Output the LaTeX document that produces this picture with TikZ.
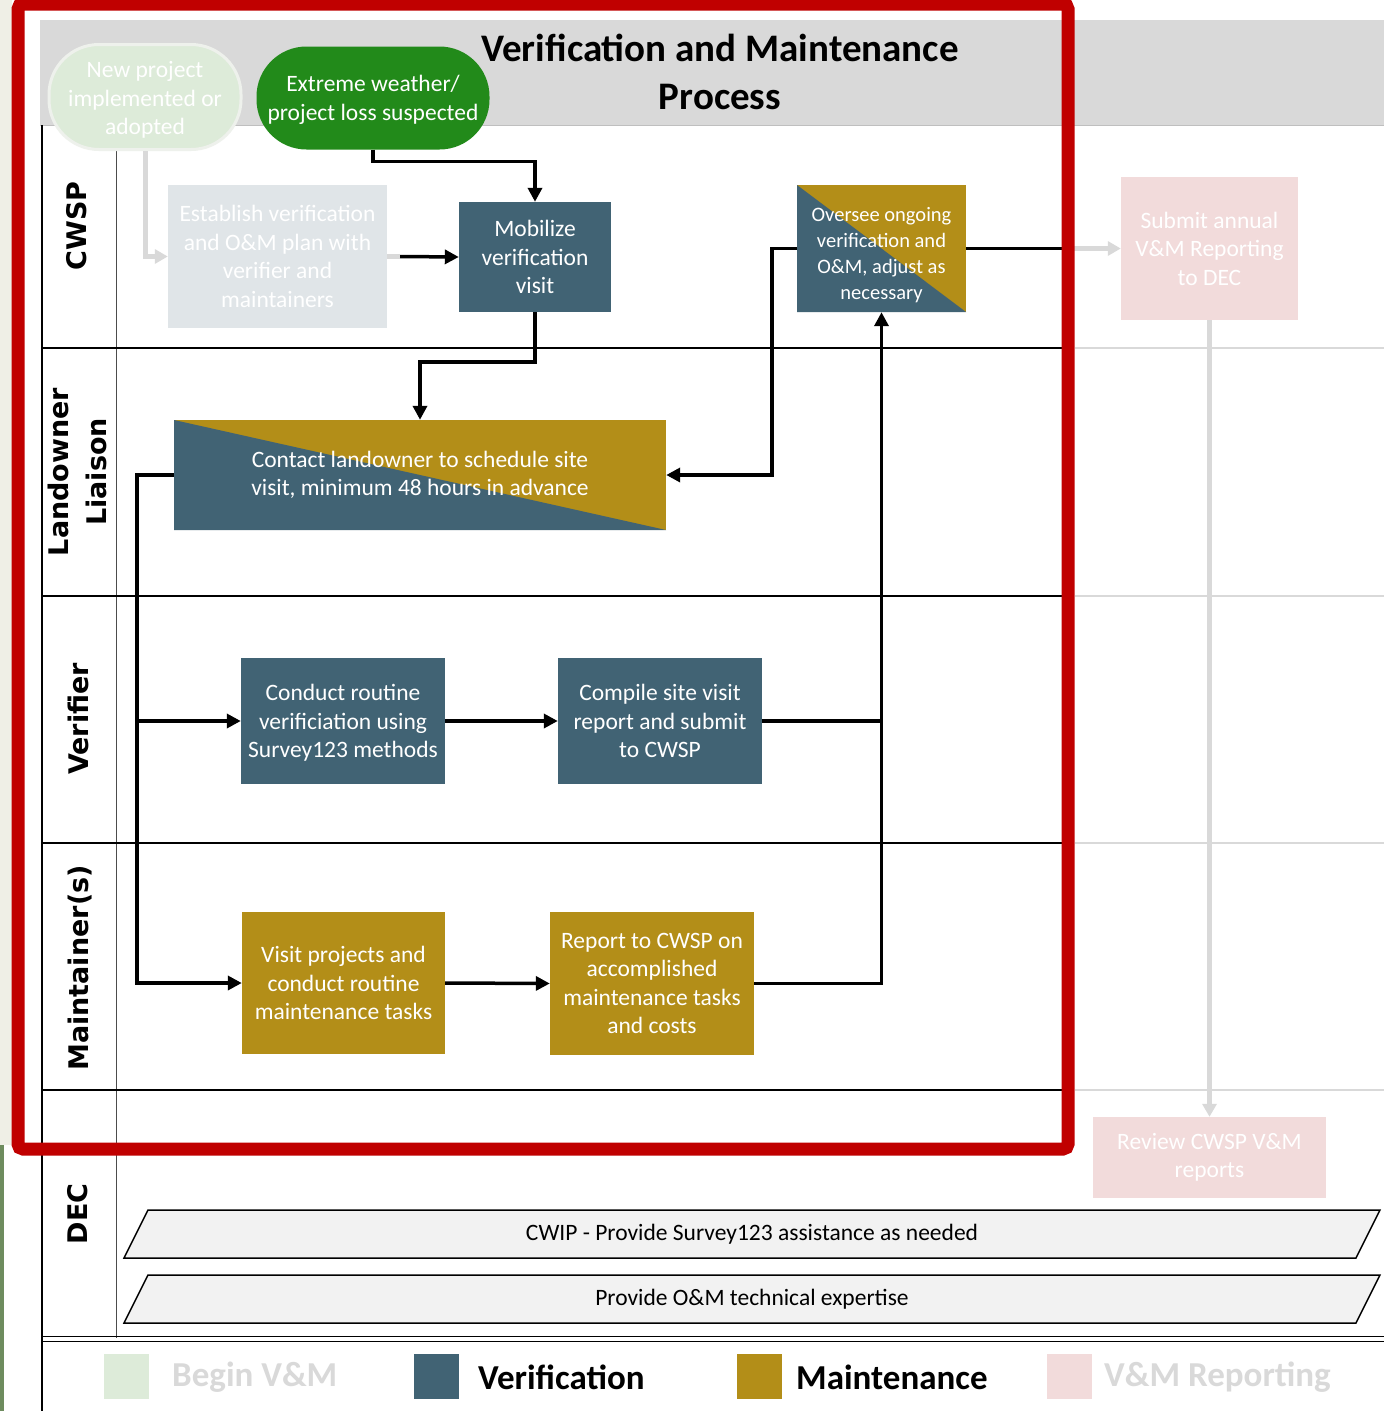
\documentclass[tikz,border=0pt]{standalone}
\usepackage{fontspec}
\setmainfont{Carlito}
\newfontfamily\lanefont{DejaVu Sans}
\usetikzlibrary{arrows.meta}
\definecolor{vblue}{HTML}{416374}
\definecolor{mgold}{HTML}{B38E18}
\definecolor{bgreen}{HTML}{DDEBD9}
\definecolor{dgreen}{HTML}{228A1A}
\definecolor{rpink}{HTML}{F2DBDB}
\definecolor{estgray}{HTML}{E0E5E8}
\definecolor{bandgray}{HTML}{D9D9D9}
\definecolor{fadegray}{HTML}{D9D9D9}
\definecolor{frame}{HTML}{C00000}
\definecolor{paragray}{HTML}{F2F2F2}
\definecolor{cream}{HTML}{EFEFE6}
\definecolor{moss}{HTML}{6E8C5E}
\definecolor{halo}{HTML}{EEF1EC}
\tikzset{
  box/.style={rectangle, inner sep=0pt, align=center, text=white, font=\fontsize{23.5}{28.5}\selectfont},
  vbox/.style={box, fill=vblue},
  mbox/.style={box, fill=mgold},
  splitbox/.style={box, fill=mgold, path picture={\fill[vblue] (path picture bounding box.north west) -- (path picture bounding box.south west) -- (path picture bounding box.south east) -- cycle;}},
  fadebox/.style={box, fill=estgray},
  pinkbox/.style={box, fill=rpink},
  stadium/.style={box, rounded corners=50pt},
  lanelabel/.style={rotate=90, align=center, inner sep=0pt, font=\lanefont\bfseries\fontsize{27}{38}\selectfont},
  lanerule/.style={draw=black, line width=1.2pt},
  farrule/.style={draw=fadegray, line width=1.2pt},
  bline/.style={draw=black, line width=3.5pt},
  barrow/.style={bline, -{Triangle[length=14pt,width=14pt]}},
  gline/.style={draw=fadegray, line width=5pt},
  garrow/.style={gline, -{Triangle[length=13pt,width=14pt]}},
  parshape/.style={draw=black, line width=1.5pt, fill=paragray},
  partext/.style={inner sep=0pt, text=black, font=\fontsize{23.5}{28.5}\selectfont},
  legsq/.style={rectangle, inner sep=0pt, minimum width=45pt, minimum height=45pt},
  legtext/.style={anchor=west, inner sep=0pt, font=\bfseries\fontsize{35}{40}\selectfont},
}
\begin{document}
\begin{tikzpicture}[x=1pt, y=-1pt]
\useasboundingbox (0,0) rectangle (1384,1411);
\fill[white] (0,0) rectangle (1384,1411);
\fill[cream] (0,0) rectangle (12,1145);
\fill[moss] (0,1145) rectangle (4,1411);
% title band
\fill[bandgray] (40,20) rectangle (1384,125);
\draw[draw=black!25, line width=0.8pt] (40,125) -- (1384,125);
\node[inner sep=0pt, align=center, font=\bfseries\fontsize{39}{48}\selectfont] (title) at (720,72) {Verification and Maintenance\\Process};
% lane structure
\draw[lanerule] (42,125) -- (42,1411);
\draw[draw=black!70, line width=1pt] (116,150) -- (116,1338);
\draw[lanerule] (42,348) -- (1062,348);
\draw[lanerule] (42,596) -- (1062,596);
\draw[lanerule] (42,843) -- (1062,843);
\draw[lanerule] (42,1090) -- (1062,1090);
\draw[farrule] (1075,348) -- (1384,348);
\draw[farrule] (1075,596) -- (1384,596);
\draw[farrule] (1075,843) -- (1384,843);
\draw[farrule] (1075,1090) -- (1384,1090);
\draw[draw=black, line width=1pt] (42,1336) -- (1384,1336);
\draw[draw=black, line width=1pt] (42,1341) -- (1384,1341);
% lane labels
\node[lanelabel] (lcwsp) at (77,226) {CWSP};
\node[lanelabel] (lland) at (77.5,472) {Landowner\\Liaison};
\node[lanelabel] (lver) at (78,719) {Verifier};
\node[lanelabel] (lmain) at (80,968) {Maintainer(s)};
\node[lanelabel] (ldec) at (78,1214) {DEC};
% DEC parallelograms
\draw[parshape] (148,1210) -- (1380,1210) -- (1356,1258) -- (124,1258) -- cycle;
\node[partext] (cwip) at (752,1234) {CWIP - Provide Survey123 assistance as needed};
\draw[parshape] (148,1275) -- (1380,1275) -- (1356,1323) -- (124,1323) -- cycle;
\node[partext] (omx) at (752,1299) {Provide O\&M technical expertise};
% nodes
\node[stadium, fill=bgreen, draw=halo, line width=3pt, minimum width=192pt, minimum height=105pt] (newp) at (145,97) {\rule{0pt}{22pt}New project\\implemented or\\adopted};
\node[stadium, fill=dgreen, minimum width=233pt, minimum height=103pt] (extreme) at (373,98) {\rule{0pt}{20pt}Extreme weather/\\project loss suspected};
\node[fadebox, minimum width=219pt, minimum height=143pt] (est) at (277.5,256.5) {Establish verification\\and O\&M plan with\\verifier and\\maintainers};
\node[vbox, minimum width=152pt, minimum height=110pt] (mob) at (535,257) {Mobilize\\verification\\visit};
\node[splitbox, minimum width=169pt, minimum height=127pt, font=\fontsize{20.5}{26}\selectfont] (over) at (881.5,248.5) {\rule{0pt}{28pt}Oversee ongoing\\verification and\\O\&M, adjust as\\necessary};
\node[pinkbox, minimum width=177pt, minimum height=143pt] (sub) at (1209.5,248.5) {Submit annual\\V\&M Reporting\\to DEC};
\node[splitbox, minimum width=492pt, minimum height=110pt] (contact) at (420,475) {Contact landowner to schedule site\\visit, minimum 48 hours in advance};
\node[vbox, minimum width=204pt, minimum height=126pt] (conduct) at (343,721) {\rule{0pt}{20pt}Conduct routine\\verificiation using\\Survey123 methods};
\node[vbox, minimum width=204pt, minimum height=126pt] (compile) at (660,721) {Compile site visit\\report and submit\\to CWSP};
\node[mbox, minimum width=203pt, minimum height=142pt] (visit) at (343.5,983) {Visit projects and\\conduct routine\\maintenance tasks};
\node[mbox, minimum width=204pt, minimum height=143pt] (report) at (652,983.5) {Report to CWSP on\\accomplished\\maintenance tasks\\and costs};
\node[pinkbox, minimum width=233pt, minimum height=81pt] (review) at (1209.5,1157.5) {Review CWSP V\&M\\reports};
% connectors
\draw[garrow] (newp.south) |- (est.west);
\draw[gline] (est.east) -- ++(13,0) coordinate (estout);
\draw[barrow] (estout) -- (mob.west);
\draw[barrow] (extreme.south) -- ++(0,12) -| (mob.north);
\draw[barrow] (mob.south) -- ++(0,50) -| (contact.north);
\draw[barrow] (over.west) -- ++(-25,0) |- (contact.east);
\coordinate (redcross) at (1068,248.5);
\draw[bline] (over.east) -- (redcross);
\draw[garrow] (redcross) -- (sub.west);
\draw[garrow] (sub.south) -- (review.north);
\coordinate (trunk) at (137,475);
\draw[barrow] (contact.west) -- (trunk) |- (visit.west);
\draw[barrow] (trunk |- conduct.west) -- (conduct.west);
\draw[barrow] (conduct.east) -- (compile.west);
\draw[barrow] (visit.east) -- (report.west);
\draw[bline] (compile.east) -- (compile.east -| over.south);
\draw[barrow] (report.east) -| (over.south);
% legend
\node[legsq, fill=bgreen] (lg1) at (126.5,1376.5) {};
\node[legtext, text=fadegray] (lt1) at (172,1377) {Begin V\&M};
\node[legsq, fill=vblue] (lg2) at (436.5,1376.5) {};
\node[legtext, text=black] (lt2) at (478,1377) {Verification};
\node[legsq, fill=mgold] (lg3) at (759,1376.5) {};
\node[legtext, text=black] (lt3) at (796,1377) {Maintenance};
\node[legsq, fill=rpink] (lg4) at (1069.5,1376.5) {};
\node[legtext, text=fadegray] (lt4) at (1104,1377) {V\&M Reporting};
% red highlight frame
\draw[draw=frame, line width=13pt, rounded corners=5pt] (18,4) rectangle (1068,1149);
\end{tikzpicture}
\end{document}
